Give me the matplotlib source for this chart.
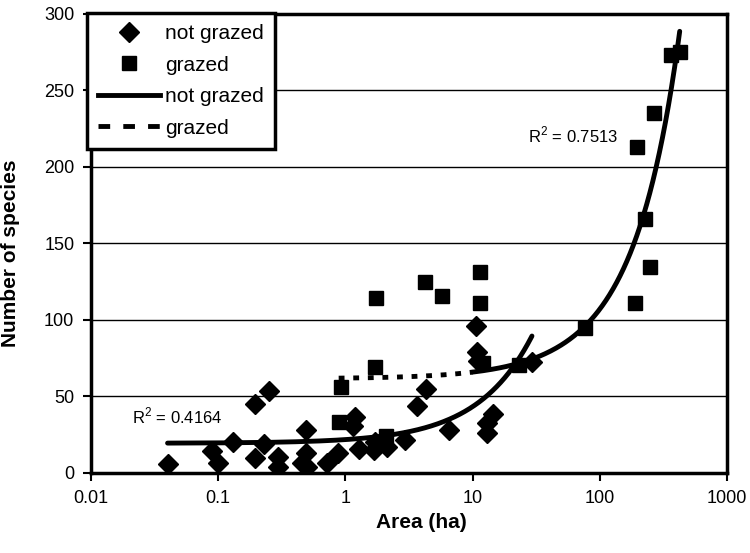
import numpy as np
import matplotlib
matplotlib.use("Agg")
import matplotlib.pyplot as plt
from matplotlib.lines import Line2D
from matplotlib.ticker import FixedLocator, FixedFormatter

plt.rcParams['font.family'] = ['Liberation Sans', 'DejaVu Sans']
plt.rcParams['mathtext.fontset'] = 'custom'
plt.rcParams['mathtext.rm'] = 'Liberation Sans'

# not grazed (diamonds)
ng_area = [0.040, 0.090, 0.099, 0.130, 0.196, 0.250, 0.196, 0.228, 0.296, 0.296,
           0.494, 0.456, 0.494, 0.50, 0.718, 0.88, 1.20, 1.14, 1.27, 1.67,
           1.72, 2.13, 2.96, 3.66, 4.31, 6.5, 10.6, 10.9, 11.1, 13.0,
           13.0, 14.5, 29.3]
ng_species = [6, 14.6, 6.3, 20.5, 45.3, 53.6, 10, 19, 10.7, 4,
              28, 6.3, 12.9, 4, 6.3, 13, 36.8, 31, 16, 15,
              20, 17, 21.6, 43.8, 54.7, 28, 96, 79, 73, 32.5,
              26.3, 38.6, 72.8]

# grazed (squares)
g_area = [0.886, 0.925, 1.70, 1.74, 2.10, 4.25, 5.75, 11.5, 11.5, 12.0,
          23.1, 77, 190, 196, 228, 247, 265, 365, 425]
g_species = [33, 56, 69.5, 114.6, 24, 124.6, 115.7, 131.6, 110.9, 72,
             70.6, 94.6, 111.3, 212.9, 165.8, 134.4, 235, 273, 275]

# grazed trend line (2nd order polynomial, coefficients)
g_trend = [0.000244, 0.4306, 61.6]

y_ticks = [0, 50, 100, 150, 200, 250, 300]
x_ticks = [0.01, 0.1, 1, 10, 100, 1000]
x_labels = ['0.01', '0.1', '1', '10', '100', '1000']

fig = plt.figure(figsize=(7.5, 5.53), dpi=100)
ax = fig.add_axes([0.1213, 0.1447, 0.848, 0.830])

for y in y_ticks[1:-1]:
    ax.axhline(y, color='black', lw=1, zorder=1)

ax.plot(ng_area, ng_species, 'D', color='black', ms=10, zorder=3)
ax.plot(g_area, g_species, 's', color='black', ms=9.5, zorder=3)

# not grazed: linear trend
p_ng = np.polyfit(ng_area, ng_species, 1)
xs = np.linspace(min(ng_area), max(ng_area), 400)
ax.plot(xs, np.polyval(p_ng, xs), '-', color='black', lw=3.5, zorder=4,
        solid_capstyle='round')

# grazed: dotted part at low areas, looks solid where the curve turns up
xg1 = np.linspace(min(g_area), 10, 200)
xg2 = np.linspace(10, max(g_area), 400)
ax.plot(xg1, np.polyval(g_trend, xg1), color='black', lw=3.5, zorder=4,
        linestyle=(0, (1.2, 1.8)))
ax.plot(xg2, np.polyval(g_trend, xg2), color='black', lw=3.5, zorder=4,
        solid_capstyle='round')

ax.text(0.021, 37.5, 'R$^{2}$ = 0.4164', fontsize=12, va='center', ha='left')
ax.text(27.5, 221, 'R$^{2}$ = 0.7513', fontsize=12, va='center', ha='left')

ax.set_xscale('log')
ax.set_xlim(0.01, 1000)
ax.set_ylim(0, 300)
ax.xaxis.set_major_locator(FixedLocator(x_ticks))
ax.xaxis.set_major_formatter(FixedFormatter(x_labels))
ax.xaxis.set_minor_locator(FixedLocator([]))
ax.set_yticks(y_ticks)
ax.tick_params(axis='both', labelsize=13, direction='out', length=6, width=1.5, pad=6)

for s in ax.spines.values():
    s.set_linewidth(2.5)

ax.set_xlabel('Area (ha)', fontsize=15, fontweight='bold')
ax.set_ylabel('Number of species', fontsize=15, fontweight='bold')
ax.xaxis.set_label_coords(0.52, -0.088)
ax.yaxis.set_label_coords(-0.112, 0.478)

handles = [
    Line2D([], [], marker='D', ls='none', color='black', ms=10),
    Line2D([], [], marker='s', ls='none', color='black', ms=9.5),
    Line2D([], [], ls='-', color='black', lw=3.5),
    Line2D([], [], ls=(0, (2.4, 2.7)), color='black', lw=3.5),
]
labels = ['not grazed', 'grazed', 'not grazed', 'grazed']
leg = ax.legend(handles, labels, loc='upper left', bbox_to_anchor=(-0.007, 1.003),
                borderaxespad=0, fontsize=15, frameon=True, fancybox=False,
                edgecolor='black', handlelength=3.0, handletextpad=0.2,
                labelspacing=0.6, borderpad=0.55)
leg.get_frame().set_linewidth(2.5)
leg.get_frame().set_alpha(1)
leg.set_zorder(10)

fig.savefig('out.png', dpi=100)
